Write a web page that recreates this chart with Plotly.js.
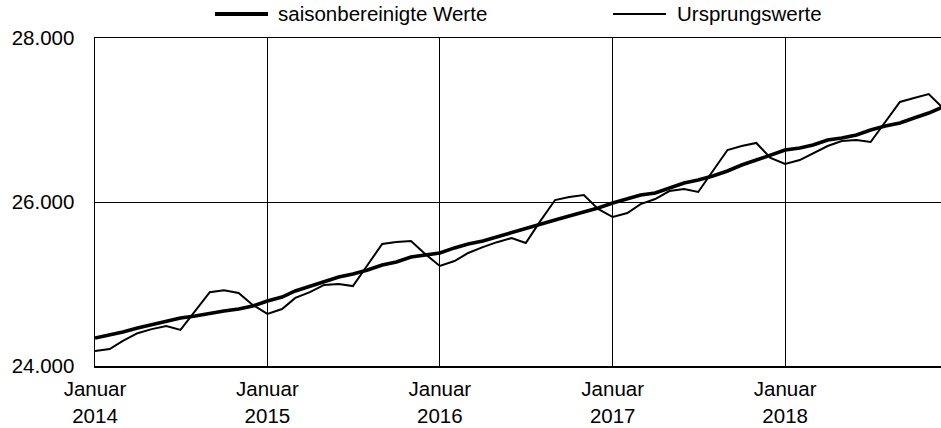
<!DOCTYPE html>
<html>
<head>
<meta charset="utf-8">
<script src="https://cdn.plot.ly/plotly-3.0.1.min.js"></script>
<style>
  html, body { margin: 0; padding: 0; background: #fff; }
  #chart { width: 941px; height: 428px; }
</style>
</head>
<body>
<div id="chart"></div>
<script>
// Monate Januar 2014 bis Dezember 2018
var years = [2014, 2015, 2016, 2017, 2018];
var months = [];
years.forEach(function (y) {
  for (var m = 1; m <= 12; m++) {
    months.push(y + '-' + (m < 10 ? '0' + m : m) + '-01');
  }
});

var saisonbereinigt = [
  24341, 24378, 24415, 24463, 24500, 24540, 24585, 24610, 24646, 24670, 24695, 24732,
  24793, 24841, 24915, 24975, 25024, 25085, 25122, 25170, 25232, 25268, 25330, 25354,
  25378, 25440, 25488, 25525, 25573, 25622, 25670, 25720, 25780, 25830, 25878, 25927,
  25988, 26036, 26085, 26110, 26170, 26232, 26268, 26317, 26378, 26451, 26512, 26573,
  26634, 26659, 26695, 26756, 26780, 26817, 26878, 26927, 26963, 27024, 27085, 27160
];

var ursprung = [
  24183, 24207, 24305, 24400, 24450, 24488, 24440, 24670, 24900, 24925, 24890, 24745,
  24635, 24695, 24830, 24900, 24988, 25000, 24975, 25232, 25488, 25512, 25525, 25366,
  25220, 25280, 25378, 25450, 25510, 25560, 25500, 25770, 26024, 26060, 26085, 25915,
  25817, 25866, 25975, 26036, 26134, 26158, 26122, 26378, 26634, 26683, 26720, 26537,
  26463, 26512, 26598, 26683, 26744, 26756, 26732, 26975, 27220, 27268, 27317, 27146
];

var seriesNames = ['saisonbereinigte Werte', 'Ursprungswerte'];
var tickDates = ['2014-01-01', '2015-01-01', '2016-01-01', '2017-01-01', '2018-01-01'];
var tickLabels = ['Januar<br>2014', 'Januar<br>2015', 'Januar<br>2016', 'Januar<br>2017', 'Januar<br>2018'];
var yTicks = [24000, 26000, 28000];

var font = { family: 'Liberation Sans, Arial, sans-serif', size: 20.5, color: '#000' };

var data = [
  {
    x: months, y: ursprung, name: seriesNames[1], mode: 'lines',
    line: { color: '#000', width: 2 }, showlegend: false
  },
  {
    x: months, y: saisonbereinigt, name: seriesNames[0], mode: 'lines',
    line: { color: '#000', width: 3.6 }, showlegend: false
  }
];

// Legende von Hand (Pixel -> Papierkoordinaten)
var L = 95, W = 846, T = 38, H = 328;
function px(x) { return (x - L) / W; }
function py(y) { return (T + H - y) / H; }

var layout = {
  width: 941, height: 428,
  margin: { l: L, r: 941 - L - W, t: T, b: 428 - T - H },
  paper_bgcolor: '#fff', plot_bgcolor: '#fff',
  separators: ',.',
  font: font,
  showlegend: false,
  xaxis: {
    type: 'date',
    range: ['2014-01-01', '2018-11-27'],
    tickvals: tickDates, ticktext: tickLabels,
    showgrid: true, gridcolor: '#000', gridwidth: 1,
    showline: true, linecolor: '#000', linewidth: 1.5, mirror: true,
    ticks: '', ticklabelstandoff: 4,
    zeroline: false, tickfont: font
  },
  yaxis: {
    range: [24000, 28000],
    tickvals: yTicks, tickformat: ',.0f',
    showgrid: true, gridcolor: '#000', gridwidth: 1,
    showline: true, linecolor: '#000', linewidth: 1.5, mirror: true,
    ticks: '', ticklabelstandoff: 15,
    zeroline: false, tickfont: font
  },
  shapes: [
    { type: 'line', xref: 'paper', yref: 'paper', x0: px(215), x1: px(268), y0: py(14), y1: py(14),
      line: { color: '#000', width: 4 } },
    { type: 'line', xref: 'paper', yref: 'paper', x0: px(613), x1: px(666), y0: py(14), y1: py(14),
      line: { color: '#000', width: 2 } }
  ],
  annotations: [
    { xref: 'paper', yref: 'paper', x: px(276), y: py(14), xanchor: 'left', yanchor: 'middle',
      text: seriesNames[0], showarrow: false, font: font },
    { xref: 'paper', yref: 'paper', x: px(675), y: py(14), xanchor: 'left', yanchor: 'middle',
      text: seriesNames[1], showarrow: false, font: font }
  ]
};

Plotly.newPlot('chart', data, layout, { displayModeBar: false, staticPlot: true });
</script>
</body>
</html>
